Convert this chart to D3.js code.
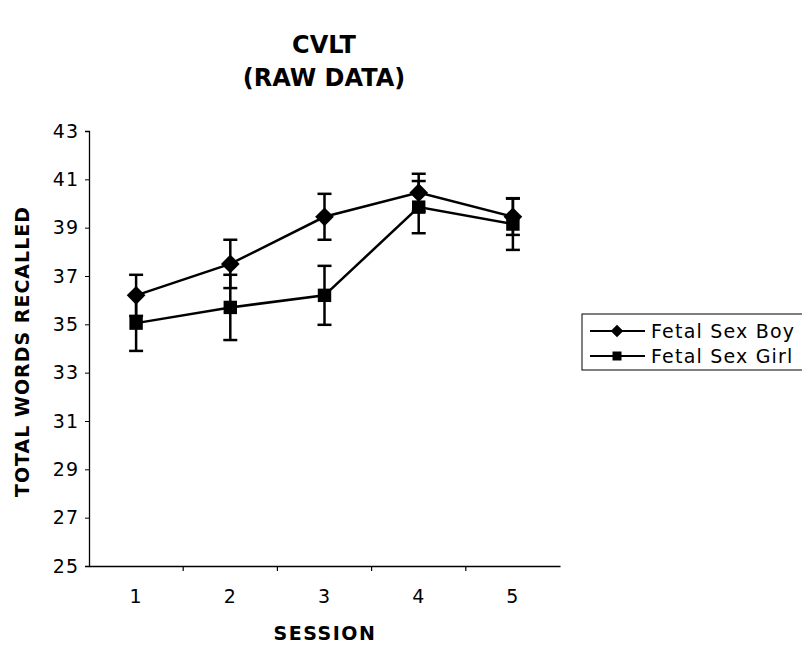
<!DOCTYPE html>
<html>
<head>
<meta charset="utf-8">
<script src="https://cdn.jsdelivr.net/npm/d3@7"></script>
<style>
  body { margin: 0; background: #fff; }
  text { font-family: "DejaVu Sans", Verdana, sans-serif; fill: #000; }
</style>
</head>
<body>
<div class="chart"></div>
<script>
// values
const sessions = ['1', '2', '3', '4', '5'];
const boyMeans = [36.2, 37.5, 39.45, 40.45, 39.45];
const boyErr = [0.85, 1.0, 0.95, 0.78, 0.75];
const girlMeans = [35.05, 35.7, 36.2, 39.85, 39.15];
const girlErr = [1.15, 1.35, 1.22, 1.08, 1.07];
const yTicks = [25, 27, 29, 31, 33, 35, 37, 39, 41, 43];
const seriesNames = ['Fetal Sex Boy', 'Fetal Sex Girl'];

const W = 802, H = 648;
const margin = {top: 131, left: 89, right: 242, bottom: 82};
const width = W - margin.left - margin.right;
const height = H - margin.top - margin.bottom;

const svg = d3.select('.chart').append('svg')
  .attr('width', W).attr('height', H);

const g = svg.append('g')
  .attr('transform', `translate(${margin.left},${margin.top})`);

const x = d3.scaleBand().domain(sessions).range([0, width]);
const y = d3.scaleLinear().domain([25, 43]).range([height, 0]);

// axes
const yAxis = d3.axisLeft(y).tickValues(yTicks).tickSize(4).tickPadding(6);
g.append('g').attr('class', 'y-axis').call(yAxis);

const xAxis = d3.axisBottom(x).tickSize(0).tickPadding(24);
const xg = g.append('g').attr('class', 'x-axis')
  .attr('transform', `translate(0,${height})`).call(xAxis);
// little ticks between the categories
xg.selectAll('.sep')
  .data(sessions.slice(1))
  .enter().append('line')
  .attr('x1', d => x(d)).attr('x2', d => x(d))
  .attr('y1', 0).attr('y2', 5)
  .attr('stroke', '#000').attr('stroke-width', 1.2);

g.selectAll('.domain').attr('stroke', '#000').attr('stroke-width', 1.3);
g.selectAll('.tick line').attr('stroke', '#000');
g.selectAll('.tick text').style('font-size', '19px')
  .style('letter-spacing', '1px')
  .style('font-family', '"DejaVu Sans", Verdana, sans-serif');

const cx = d => x(d) + x.bandwidth() / 2;

// diamond = square turned 45 degrees
const series = [
  {name: seriesNames[0], mean: boyMeans, err: boyErr, shape: d3.symbolSquare, rot: 45, size: 175},
  {name: seriesNames[1], mean: girlMeans, err: girlErr, shape: d3.symbolSquare, rot: 0, size: 180}
];

const line = d3.line().x(d => cx(d.s)).y(d => y(d.v));

series.forEach(sr => {
  const pts = sessions.map((s, i) => ({s: s, v: sr.mean[i], e: sr.err[i]}));
  const sg = g.append('g');

  // error bars
  const eb = sg.selectAll('.eb').data(pts).enter().append('g');
  eb.append('line')
    .attr('x1', d => cx(d.s)).attr('x2', d => cx(d.s))
    .attr('y1', d => y(d.v - d.e)).attr('y2', d => y(d.v + d.e))
    .attr('stroke', '#000').attr('stroke-width', 2.5);
  [-1, 1].forEach(sgn => {
    eb.append('line')
      .attr('x1', d => cx(d.s) - 7).attr('x2', d => cx(d.s) + 7)
      .attr('y1', d => y(d.v + sgn * d.e)).attr('y2', d => y(d.v + sgn * d.e))
      .attr('stroke', '#000').attr('stroke-width', 2.5);
  });

  sg.append('path').datum(pts)
    .attr('d', line)
    .attr('fill', 'none').attr('stroke', '#000').attr('stroke-width', 2.5);

  sg.selectAll('.mk').data(pts).enter().append('path')
    .attr('d', d3.symbol().type(sr.shape).size(sr.size))
    .attr('transform', d => `translate(${cx(d.s)},${y(d.v)}) rotate(${sr.rot})`)
    .attr('fill', '#000');
});

// titles
svg.append('text').attr('x', 324).attr('y', 53)
  .attr('text-anchor', 'middle')
  .style('font-size', '24px').style('font-weight', 'bold').text('CVLT');
svg.append('text').attr('x', 324).attr('y', 86)
  .attr('text-anchor', 'middle')
  .style('font-size', '24px').style('font-weight', 'bold').text('(RAW DATA)');

svg.append('text').attr('x', 325).attr('y', 640)
  .attr('text-anchor', 'middle')
  .style('font-size', '19px').style('font-weight', 'bold')
  .style('letter-spacing', '1.5px').text('SESSION');

svg.append('text')
  .attr('transform', `translate(29,${margin.top + height / 2 + 3}) rotate(-90)`)
  .attr('text-anchor', 'middle')
  .style('font-size', '19px').style('font-weight', 'bold')
  .style('letter-spacing', '1px').text('TOTAL WORDS RECALLED');

// legend
const lg = svg.append('g').attr('transform', 'translate(582,314)');
lg.append('rect').attr('x', 0).attr('y', 0).attr('width', 230).attr('height', 56)
  .attr('fill', '#fff').attr('stroke', '#000').attr('stroke-width', 1);
series.forEach((sr, i) => {
  const yy = 17 + i * 25;
  lg.append('line').attr('x1', 8).attr('x2', 63).attr('y1', yy).attr('y2', yy)
    .attr('stroke', '#000').attr('stroke-width', 2);
  lg.append('path').attr('d', d3.symbol().type(sr.shape).size(sr.size * 0.45))
    .attr('transform', `translate(35,${yy}) rotate(${sr.rot})`).attr('fill', '#000');
  lg.append('text').attr('x', 69).attr('y', yy + 7)
    .style('font-size', '19px').style('letter-spacing', '1.2px').text(sr.name);
});
</script>
</body>
</html>
